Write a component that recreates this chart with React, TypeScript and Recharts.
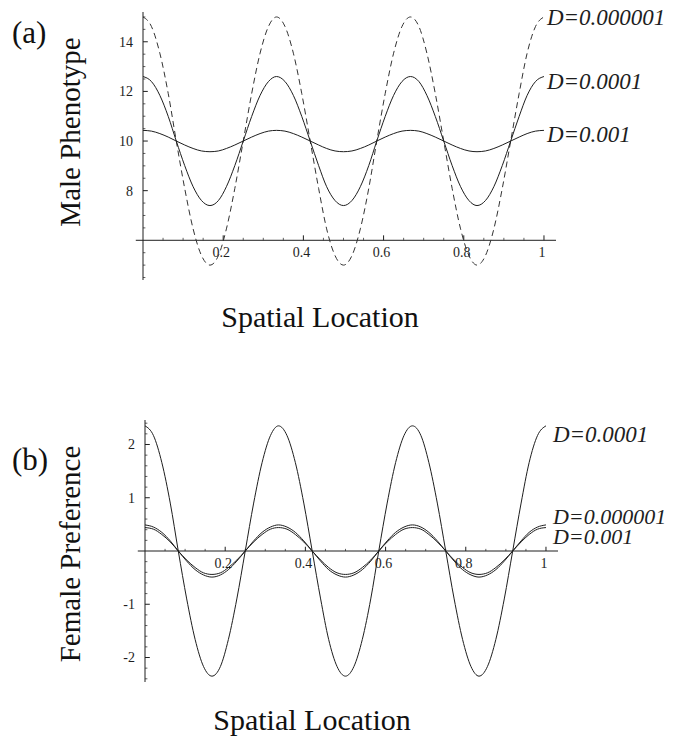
import React from 'react'
import { LineChart, Line, XAxis, YAxis, ReferenceLine, ReferenceDot } from 'recharts'

const SERIF = '"Liberation Serif", "Times New Roman", serif'
const INK = '#1e1e1e'

// spatial location, 0..1
const location = [
  0, 0.021, 0.042, 0.063, 0.083, 0.104, 0.125, 0.146, 0.167, 0.188, 0.208, 0.229, 0.25,
  0.271, 0.292, 0.313, 0.333, 0.354, 0.375, 0.396, 0.417, 0.438, 0.458, 0.479, 0.5,
  0.521, 0.542, 0.563, 0.583, 0.604, 0.625, 0.646, 0.667, 0.688, 0.708, 0.729, 0.75,
  0.771, 0.792, 0.813, 0.833, 0.854, 0.875, 0.896, 0.917, 0.938, 0.958, 0.979, 1,
]

// (a) male phenotype
const maleD6 = [
  15, 14.62, 13.54, 11.91, 10, 8.09, 6.46, 5.38, 5.0, 5.38, 6.46, 8.09, 10, 11.91, 13.54, 14.62,
  15, 14.62, 13.54, 11.91, 10, 8.09, 6.46, 5.38, 5.0, 5.38, 6.46, 8.09, 10, 11.91, 13.54, 14.62,
  15, 14.62, 13.54, 11.91, 10, 8.09, 6.46, 5.38, 5.0, 5.38, 6.46, 8.09, 10, 11.91, 13.54, 14.62,
  15,
]
const maleD4 = [
  12.6, 12.4, 11.84, 10.99, 10, 9.01, 8.16, 7.6, 7.4, 7.6, 8.16, 9.01, 10, 10.99, 11.84, 12.4,
  12.6, 12.4, 11.84, 10.99, 10, 9.01, 8.16, 7.6, 7.4, 7.6, 8.16, 9.01, 10, 10.99, 11.84, 12.4,
  12.6, 12.4, 11.84, 10.99, 10, 9.01, 8.16, 7.6, 7.4, 7.6, 8.16, 9.01, 10, 10.99, 11.84, 12.4,
  12.6,
]
const maleD3 = [
  10.43, 10.4, 10.3, 10.16, 10, 9.84, 9.7, 9.6, 9.57, 9.6, 9.7, 9.84, 10, 10.16, 10.3, 10.4,
  10.43, 10.4, 10.3, 10.16, 10, 9.84, 9.7, 9.6, 9.57, 9.6, 9.7, 9.84, 10, 10.16, 10.3, 10.4,
  10.43, 10.4, 10.3, 10.16, 10, 9.84, 9.7, 9.6, 9.57, 9.6, 9.7, 9.84, 10, 10.16, 10.3, 10.4,
  10.43,
]

// (b) female preference
const femaleD4 = [
  2.35, 2.17, 1.66, 0.9, 0, -0.9, -1.66, -2.17, -2.35, -2.17, -1.66, -0.9, 0, 0.9, 1.66, 2.17,
  2.35, 2.17, 1.66, 0.9, 0, -0.9, -1.66, -2.17, -2.35, -2.17, -1.66, -0.9, 0, 0.9, 1.66, 2.17,
  2.35, 2.17, 1.66, 0.9, 0, -0.9, -1.66, -2.17, -2.35, -2.17, -1.66, -0.9, 0, 0.9, 1.66, 2.17,
  2.35,
]
const femaleD6 = [
  0.49, 0.45, 0.35, 0.19, 0, -0.19, -0.35, -0.45, -0.49, -0.45, -0.35, -0.19, 0, 0.19, 0.35, 0.45,
  0.49, 0.45, 0.35, 0.19, 0, -0.19, -0.35, -0.45, -0.49, -0.45, -0.35, -0.19, 0, 0.19, 0.35, 0.45,
  0.49, 0.45, 0.35, 0.19, 0, -0.19, -0.35, -0.45, -0.49, -0.45, -0.35, -0.19, 0, 0.19, 0.35, 0.45,
  0.49,
]
const femaleD3 = [
  0.44, 0.41, 0.31, 0.17, 0, -0.17, -0.31, -0.41, -0.44, -0.41, -0.31, -0.17, 0, 0.17, 0.31, 0.41,
  0.44, 0.41, 0.31, 0.17, 0, -0.17, -0.31, -0.41, -0.44, -0.41, -0.31, -0.17, 0, 0.17, 0.31, 0.41,
  0.44, 0.41, 0.31, 0.17, 0, -0.17, -0.31, -0.41, -0.44, -0.41, -0.31, -0.17, 0, 0.17, 0.31, 0.41,
  0.44,
]

const xTicks = [0.2, 0.4, 0.6, 0.8, 1]
const xMinor = [0.05, 0.1, 0.15, 0.25, 0.3, 0.35, 0.45, 0.5, 0.55, 0.65, 0.7, 0.75, 0.85, 0.9, 0.95]
const maleTicks = [8, 10, 12, 14]
const maleMinor = [4.5, 5, 5.5, 6.5, 7, 7.5, 8.5, 9, 9.5, 10.5, 11, 11.5, 12.5, 13, 13.5, 14.5, 15]
const femaleTicks = [-2, -1, 1, 2]
const femaleMinor = [
  -2.4, -2.2, -1.8, -1.6, -1.4, -1.2, -0.8, -0.6, -0.4, -0.2,
  0.2, 0.4, 0.6, 0.8, 1.2, 1.4, 1.6, 1.8, 2.2, 2.4,
]

const maleRows = location.map((x, i) => ({ x, d6: maleD6[i], d4: maleD4[i], d3: maleD3[i] }))
const femaleRows = location.map((x, i) => ({ x, d6: femaleD6[i], d4: femaleD4[i], d3: femaleD3[i] }))
const LAST = location.length - 1

const endLabel = (text: string, dx: number, dy: number, size = 23) => (props: any) => {
  if (props.index !== LAST) return <g key={props.index} />
  return (
    <text
      key={props.index}
      x={props.x + dx}
      y={props.y + dy}
      fontFamily={SERIF}
      fontStyle="italic"
      fontSize={size}
      fill={INK}
    >
      {text}
    </text>
  )
}

const tickText = (value: string) => (props: any) => {
  const vb = props.viewBox || {}
  return (
    <text
      x={(vb.x || 0) + (vb.width || 0) / 2 - 2}
      y={(vb.y || 0) + 18}
      textAnchor="middle"
      fontFamily={SERIF}
      fontSize={14}
      fill={INK}
    >
      {value}
    </text>
  )
}

// axis through y = base, ticks drawn inward like the original plot
function axisMarks(base: number, major: number, minor: number, yMajor: number[], yMinor: number[], yLen: number, yMinorLen: number) {
  const out: React.ReactNode[] = []
  out.push(
    <ReferenceLine
      key="xaxis"
      segment={[{ x: -0.018, y: base }, { x: 1.03, y: base }]}
      stroke={INK}
      strokeWidth={1}
      ifOverflow="visible"
    />
  )
  xTicks.forEach((t) => {
    out.push(
      <ReferenceLine key={'xt' + t} segment={[{ x: t, y: base }, { x: t, y: base + major }]} stroke={INK} ifOverflow="visible" />
    )
    out.push(
      <ReferenceDot key={'xl' + t} x={t} y={base} r={1} fill="none" stroke="none" ifOverflow="visible" label={tickText(String(t))} />
    )
  })
  xMinor.forEach((t) => {
    out.push(
      <ReferenceLine key={'xm' + t} segment={[{ x: t, y: base }, { x: t, y: base + minor }]} stroke={INK} strokeWidth={0.7} ifOverflow="visible" />
    )
  })
  yMajor.forEach((t) => {
    out.push(
      <ReferenceLine key={'yt' + t} segment={[{ x: 0, y: t }, { x: yLen, y: t }]} stroke={INK} ifOverflow="visible" />
    )
  })
  yMinor.forEach((t) => {
    out.push(
      <ReferenceLine key={'ym' + t} segment={[{ x: 0, y: t }, { x: yMinorLen, y: t }]} stroke={INK} strokeWidth={0.7} ifOverflow="visible" />
    )
  })
  return out
}

const yTick = { fontFamily: SERIF, fontSize: 14, fill: INK }

export default function App() {
  return (
    <div style={{ position: 'absolute', left: 0, top: 0, width: 677, height: 742, background: '#fff' }}>
      <div style={{ position: 'absolute', left: 0, top: 0 }}>
        <LineChart width={677} height={360} data={maleRows} margin={{ top: 12, right: 121, bottom: 80, left: 113 }}>
          <XAxis dataKey="x" type="number" domain={[0, 1.03]} hide />
          <YAxis
            type="number"
            domain={[4.4, 15.2]}
            ticks={maleTicks}
            allowDataOverflow
            width={30}
            tickLine={false}
            tickMargin={4}
            axisLine={{ stroke: INK }}
            tick={yTick}
          />
          {axisMarks(6, 0.2, 0.1, maleTicks, maleMinor, 0.012, 0.006)}
          <Line dataKey="d6" type="monotone" stroke="#333" strokeWidth={1} strokeDasharray="6 4" dot={false} isAnimationActive={false} label={endLabel('D=0.000001', 3, 8)} />
          <Line dataKey="d4" type="monotone" stroke={INK} strokeWidth={1} dot={false} isAnimationActive={false} label={endLabel('D=0.0001', 3, 12)} />
          <Line dataKey="d3" type="monotone" stroke={INK} strokeWidth={1} dot={false} isAnimationActive={false} label={endLabel('D=0.001', 3, 12)} />
        </LineChart>
      </div>
      <div style={{ position: 'absolute', left: 0, top: 360 }}>
        <LineChart width={677} height={382} data={femaleRows} margin={{ top: 60, right: 119, bottom: 60, left: 115 }}>
          <XAxis dataKey="x" type="number" domain={[0, 1.03]} hide />
          <YAxis
            type="number"
            domain={[-2.46, 2.46]}
            ticks={femaleTicks}
            allowDataOverflow
            width={30}
            tickLine={false}
            tickMargin={4}
            axisLine={{ stroke: INK }}
            tick={yTick}
          />
          {axisMarks(0, 0.08, 0.04, femaleTicks, femaleMinor, 0.012, 0.006)}
          <Line dataKey="d4" type="monotone" stroke={INK} strokeWidth={1} dot={false} isAnimationActive={false} label={endLabel('D=0.0001', 7, 16)} />
          <Line dataKey="d6" type="monotone" stroke={INK} strokeWidth={1} dot={false} isAnimationActive={false} label={endLabel('D=0.000001', 7, -1, 22)} />
          <Line dataKey="d3" type="monotone" stroke={INK} strokeWidth={1} dot={false} isAnimationActive={false} label={endLabel('D=0.001', 7, 16, 22)} />
        </LineChart>
      </div>
      <svg width={677} height={742} style={{ position: 'absolute', left: 0, top: 0, pointerEvents: 'none' }}>
        <g fontFamily={SERIF} fill="#111">
          <text x={12} y={43} fontSize={31}>(a)</text>
          <text transform="translate(70,132) rotate(-90)" textAnchor="middle" dominantBaseline="central" fontSize={29}>
            Male Phenotype
          </text>
          <text x={320} y={327} textAnchor="middle" fontSize={30}>Spatial Location</text>
          <text x={12} y={470} fontSize={31}>(b)</text>
          <text transform="translate(70,554) rotate(-90)" textAnchor="middle" dominantBaseline="central" fontSize={29}>
            Female Preference
          </text>
          <text x={312} y={730} textAnchor="middle" fontSize={30}>Spatial Location</text>
        </g>
      </svg>
    </div>
  )
}
